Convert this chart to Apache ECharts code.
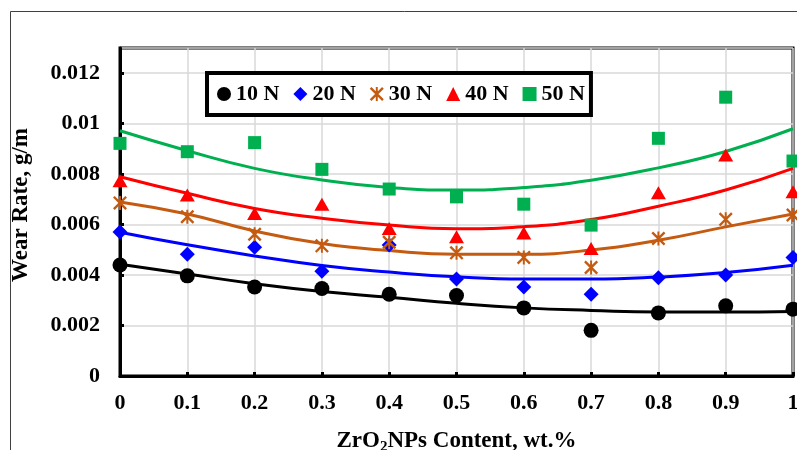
<!DOCTYPE html>
<html>
<head>
<meta charset="utf-8">
<script src="https://cdn.jsdelivr.net/npm/echarts@6/dist/echarts.min.js"></script>
<style>
  html, body { margin: 0; padding: 0; background: #fff; }
  #chart { width: 797px; height: 450px; }
</style>
</head>
<body>
<div id="chart"></div>
<script>
// ZrO2 content (wt.%)
var content = [0, 0.1, 0.2, 0.3, 0.4, 0.5, 0.6, 0.7, 0.8, 0.9, 1];

// measured wear rate, g/m
var wear10 = [0.0044, 0.00397, 0.00353, 0.00347, 0.00324, 0.00319, 0.0027, 0.00181, 0.0025, 0.00278, 0.00265];
var wear20 = [0.00571, 0.00483, 0.0051, 0.00415, 0.00519, 0.00384, 0.00353, 0.00324, 0.00389, 0.004, 0.0047];
var wear30 = [0.00686, 0.00631, 0.00562, 0.00516, 0.0053, 0.00488, 0.0047, 0.0043, 0.00545, 0.00621, 0.00638];
var wear40 = [0.00774, 0.00717, 0.00644, 0.00681, 0.00585, 0.00552, 0.00567, 0.00505, 0.00726, 0.00876, 0.0073];
var wear50 = [0.00922, 0.00889, 0.00925, 0.00819, 0.00741, 0.0071, 0.00681, 0.00598, 0.00942, 0.01105, 0.00852];

// trend lines
var fit10 = [0.00443, 0.00404, 0.00366, 0.00335, 0.00312, 0.00288, 0.0027, 0.0026, 0.00254, 0.00254, 0.00256];
var fit20 = [0.0057, 0.0052, 0.00476, 0.00438, 0.00412, 0.00393, 0.00384, 0.00384, 0.00392, 0.0041, 0.00439];
var fit30 = [0.0069, 0.00642, 0.00575, 0.00525, 0.00497, 0.00483, 0.00483, 0.00499, 0.00538, 0.00591, 0.00642];
var fit40 = [0.0079, 0.00724, 0.00664, 0.00625, 0.00598, 0.00584, 0.00592, 0.0062, 0.00673, 0.00737, 0.00823];
var fit50 = [0.00972, 0.00893, 0.00823, 0.00777, 0.00747, 0.00737, 0.00747, 0.00776, 0.00825, 0.0089, 0.0098];

var loads = ['10 N', '20 N', '30 N', '40 N', '50 N'];

var starPath = 'path://M0,1.2L1.2,0L10,8.8L8.8,10Z M8.8,0L10,1.2L1.2,10L0,8.8Z M4.3,0L5.7,0L5.7,10L4.3,10Z';

function pairs(ys) {
  return content.map(function (x, i) { return [x, ys[i]]; });
}

var serif = 'Liberation Serif, Times New Roman, serif';
var chart = echarts.init(document.getElementById('chart'));

var points = [
  { data: wear10, fit: fit10, color: '#000000', symbol: 'circle', size: 15 },
  { data: wear20, fit: fit20, color: '#0000FF', symbol: 'diamond', size: 15 },
  { data: wear30, fit: fit30, color: '#C55A11', symbol: starPath, size: 14 },
  { data: wear40, fit: fit40, color: '#FF0000', symbol: 'triangle', size: [15, 13] },
  { data: wear50, fit: fit50, color: '#00B050', symbol: 'rect', size: 13 }
];

var series = [];
points.forEach(function (p, i) {
  series.push({
    name: loads[i] + ' fit',
    type: 'line',
    data: pairs(p.fit),
    smooth: true,
    showSymbol: false,
    silent: true,
    lineStyle: { color: p.color, width: 3 },
    z: 2
  });
});
points.forEach(function (p, i) {
  series.push({
    name: loads[i],
    type: 'scatter',
    data: pairs(p.data),
    symbol: p.symbol,
    symbolSize: p.size,
    itemStyle: { color: p.color, opacity: 1 },
    z: 3
  });
});

chart.setOption({
  animation: false,
  backgroundColor: '#fff',
  graphic: [{
    type: 'rect',
    shape: { x: 10.5, y: 11.5, width: 900, height: 600 },
    style: { fill: 'none', stroke: '#404040', lineWidth: 1 },
    z: 0
  }],
  grid: {
    left: 120, right: 4, top: 48, bottom: 74,
    outerBoundsMode: 'none',
    containLabel: false,
    show: true, borderColor: '#000', borderWidth: 3
  },
  legend: {
    data: loads,
    left: 207, top: 73,
    orient: 'horizontal',
    itemWidth: 14, itemHeight: 14, itemGap: 14,
    padding: [10, 6, 10, 10],
    borderColor: '#000', borderWidth: 4,
    backgroundColor: '#fff',
    textStyle: { fontFamily: serif, fontWeight: 'bold', fontSize: 22, color: '#000' }
  },
  xAxis: {
    type: 'value',
    min: 0, max: 1, interval: 0.1,
    name: '{a|ZrO}{sub|2}{a|NPs Content, wt.%}',
    nameLocation: 'middle',
    nameGap: 51,
    nameTextStyle: {
      rich: {
        a: { fontFamily: serif, fontWeight: 'bold', fontSize: 23, color: '#000' },
        sub: { fontFamily: serif, fontWeight: 'bold', fontSize: 15, color: '#000', padding: [13, 0, 0, 0] }
      }
    },
    axisLine: { lineStyle: { color: '#000', width: 3 } },
    axisTick: { inside: true, length: 4, lineStyle: { color: '#000', width: 3 } },
    axisLabel: {
      fontFamily: serif, fontWeight: 'bold', fontSize: 22, color: '#000', margin: 16
    },
    splitLine: { show: true, lineStyle: { color: '#D9D9D9', width: 1.5 } }
  },
  yAxis: {
    type: 'value',
    min: 0, max: 0.013, interval: 0.002,
    name: 'Wear Rate, g/m',
    nameLocation: 'middle',
    nameGap: 87,
    nameTextStyle: {
      fontFamily: serif, fontWeight: 'bold', fontSize: 23, color: '#000',
      padding: [0, 0, 0, 14]
    },
    axisLine: { lineStyle: { color: '#000', width: 3 } },
    axisTick: { inside: true, length: 4, lineStyle: { color: '#000', width: 3 } },
    axisLabel: {
      fontFamily: serif, fontWeight: 'bold', fontSize: 22, color: '#000', margin: 20,
      showMaxLabel: false
    },
    splitLine: { show: true, lineStyle: { color: '#D9D9D9', width: 1.5 } }
  },
  series: series
});
</script>
</body>
</html>
